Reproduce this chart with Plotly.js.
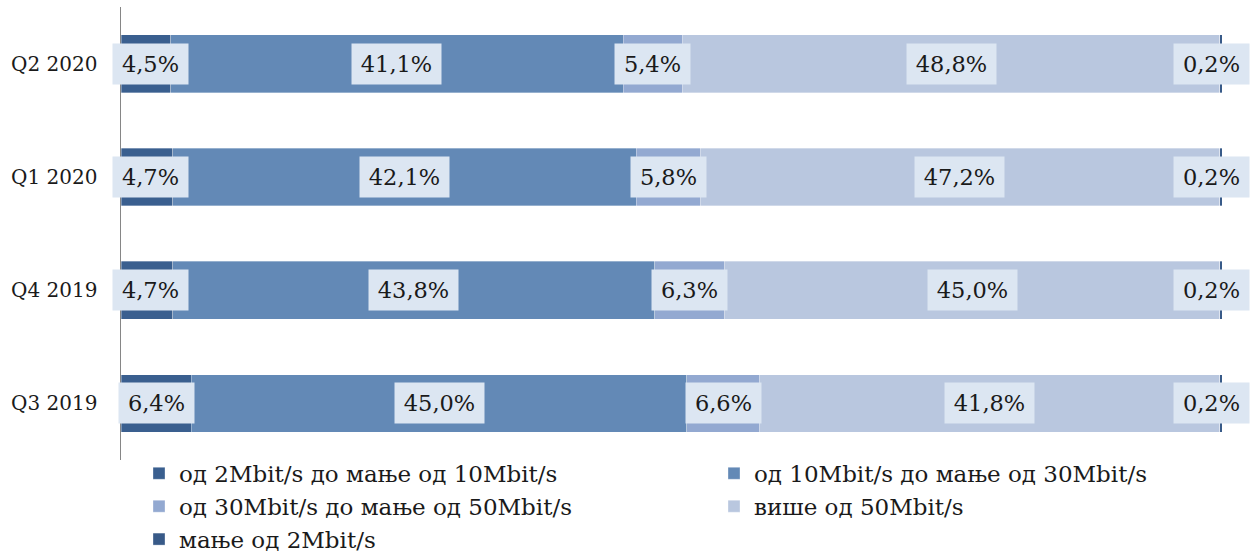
<!DOCTYPE html>
<html>
<head>
<meta charset="utf-8">
<script src="https://cdn.plot.ly/plotly-3.0.1.min.js"></script>
<style>html,body{margin:0;padding:0;background:#fff;}#chart{width:1250px;height:554px;}</style>
</head>
<body>
<div id="chart"></div>
<script>
// ---- data ----
const categories = ['Q3 2019', 'Q4 2019', 'Q1 2020', 'Q2 2020'];
const seriesNames = [
  'од 2Mbit/s до мање од 10Mbit/s',
  'од 10Mbit/s до мање од 30Mbit/s',
  'од 30Mbit/s до мање од 50Mbit/s',
  'више од 50Mbit/s',
  'мање од 2Mbit/s'
];
const s2to10 = [6.4, 4.7, 4.7, 4.5];
const s10to30 = [45.0, 43.8, 42.1, 41.1];
const s30to50 = [6.6, 6.3, 5.8, 5.4];
const sOver50 = [41.8, 45.0, 47.2, 48.8];
const sUnder2 = [0.2, 0.2, 0.2, 0.2];

// ---- styles ----
const seriesValues = [s2to10, s10to30, s30to50, sOver50, sUnder2];
const colors = ['#3A5F8F', '#6389B6', '#93A9D1', '#B9C7DF', '#385A88'];
const legendIds = ['legend', 'legend2', 'legend', 'legend2', 'legend'];
const FONT = '"DejaVu Serif", "Liberation Serif", serif';
const W = 1250, H = 554;
const M = {l: 121, r: 28, t: 7, b: 94, autoexpand: false};
const plotW = W - M.l - M.r;
const LABEL_SIZE = 22.5;

const traces = seriesValues.map((vals, i) => ({
  type: 'bar',
  orientation: 'h',
  name: seriesNames[i],
  x: vals,
  y: categories,
  marker: {color: colors[i], line: {color: 'rgba(255,255,255,0.55)', width: 0.6}},
  legend: legendIds[i],
  hoverinfo: 'skip'
}));

// label annotations
const canvas = document.createElement('canvas');
const ctx = canvas.getContext('2d');
ctx.font = LABEL_SIZE + 'px "DejaVu Serif"';
const annotations = [];
const cum = categories.map(() => 0);
seriesValues.forEach((vals) => {
  vals.forEach((v, j) => {
    const mid = cum[j] + v / 2;
    cum[j] += v;
    const txt = v.toFixed(1).replace('.', ',') + '%';
    const bw = Math.round(ctx.measureText(txt).width + 18);
    const cx = M.l + mid / 100 * plotW;
    let shift = 0;
    if (cx - bw / 2 < 113) shift = 113 - (cx - bw / 2);
    if (cx + bw / 2 > 1249) shift = 1249 - (cx + bw / 2);
    annotations.push({
      x: mid, y: categories[j], xref: 'x', yref: 'y',
      text: txt, showarrow: false,
      font: {family: FONT, size: LABEL_SIZE, color: '#1a1a1a'},
      bgcolor: '#DCE6F2', borderpad: 0,
      width: bw, height: 40,
      xshift: shift
    });
  });
});

const legendFont = {family: FONT, size: 23, color: '#1a1a1a'};
const layout = {
  width: W, height: H,
  margin: M,
  barmode: 'stack',
  bargap: 0.49,
  paper_bgcolor: '#fff', plot_bgcolor: '#fff',
  font: {family: FONT, color: '#1a1a1a'},
  xaxis: {range: [0, 100], visible: false, fixedrange: true},
  yaxis: {
    type: 'category', categoryorder: 'array', categoryarray: categories,
    showline: true, linecolor: '#868686', linewidth: 1.5,
    ticks: '', showgrid: false, zeroline: false,
    tickfont: {family: FONT, size: 20, color: '#1a1a1a'},
    ticklabelstandoff: 18
  },
  showlegend: true,
  legend: {
    x: (139 - M.l) / plotW, xanchor: 'left', y: 0.018, yanchor: 'top',
    orientation: 'v', font: legendFont,
    bgcolor: 'rgba(0,0,0,0)', tracegroupgap: 0, traceorder: 'normal'
  },
  legend2: {
    x: (714 - M.l) / plotW, xanchor: 'left', y: 0.018, yanchor: 'top',
    orientation: 'v', font: legendFont,
    bgcolor: 'rgba(0,0,0,0)', tracegroupgap: 0, traceorder: 'normal'
  },
  annotations: annotations
};

Plotly.newPlot('chart', traces, layout, {displayModeBar: false, staticPlot: true});
</script>
</body>
</html>
